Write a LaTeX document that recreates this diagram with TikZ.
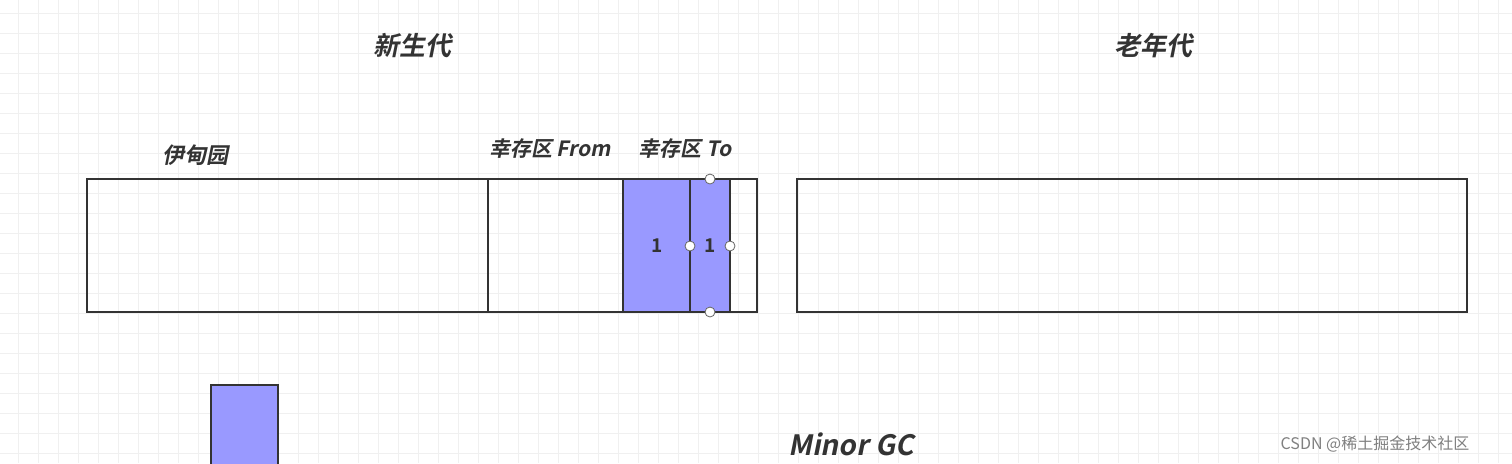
\documentclass[tikz,border=0pt]{standalone}
\usepackage{fontspec}
\newfontfamily\cjk[FakeSlant=0.2]{Noto Sans CJK SC Bold}
\newfontfamily\cjkb{Noto Sans CJK SC Bold}
\newfontfamily\cjkp{Noto Sans CJK SC}
\definecolor{blk}{HTML}{9999FF}
\definecolor{gridc}{HTML}{F0F0F0}
\definecolor{txt}{HTML}{333333}
\tikzset{box/.style={draw=txt,line width=1.2pt},
 lab/.style={font=\cjk\fontsize{11}{11}\selectfont,text=txt},
 handle/.style={circle,draw=gray!80!black,fill=white,inner sep=0pt,minimum size=5pt,line width=0.4pt}}
\begin{document}
\begin{tikzpicture}[x=0.5pt,y=-0.5pt]
\useasboundingbox (0,0) rectangle (1512,463);
\fill[white] (0,0) rectangle (1512,463);
\foreach \x in {18,38,...,1512} \draw[gridc,line width=0.4pt] (\x,0)--(\x,463);
\foreach \y in {13,33,...,463} \draw[gridc,line width=0.4pt] (0,\y)--(1512,\y);
\node[lab,font=\cjk\fontsize{13}{13}\selectfont] (ny) at (412,46) {新生代};
\node[lab,font=\cjk\fontsize{13}{13}\selectfont] (old) at (1153,46) {老年代};
\node[lab] (eden) at (195,155) {伊甸园};
\node[lab,font=\cjk\fontsize{10.5}{10.5}\selectfont] (from) at (550,149) {幸存区 From};
\node[lab,font=\cjk\fontsize{10.5}{10.5}\selectfont] (to) at (685,149) {幸存区 To};
\fill[blk] (623,179) rectangle (730,312);
\draw[box] (87,179) rectangle (757,312);
\foreach \x in {488,623,690,730} \draw[box] (\x,179)--(\x,312);
\draw[box] (797,179) rectangle (1467,312);
\node[lab,font=\cjkb\fontsize{9.5}{9.5}\selectfont] (n1) at (657,246) {1};
\node[lab,font=\cjkb\fontsize{9.5}{9.5}\selectfont] (n2) at (710,246) {1};
\foreach \p/\n in {{710,179}/h1,{710,312}/h2,{690,246}/h3,{730,246}/h4} \node[handle] (\n) at (\p) {};
\fill[blk] (211,385) rectangle (278,470);
\draw[box] (211,470)--(211,385)--(278,385)--(278,470);
\node[lab,font=\cjk\fontsize{14}{14}\selectfont] (gc) at (851,444) {Minor GC};
\node[font=\cjkp\fontsize{8}{8}\selectfont,text=gray] (wm) at (1375,444) {CSDN @稀土掘金技术社区};
\end{tikzpicture}
\end{document}
